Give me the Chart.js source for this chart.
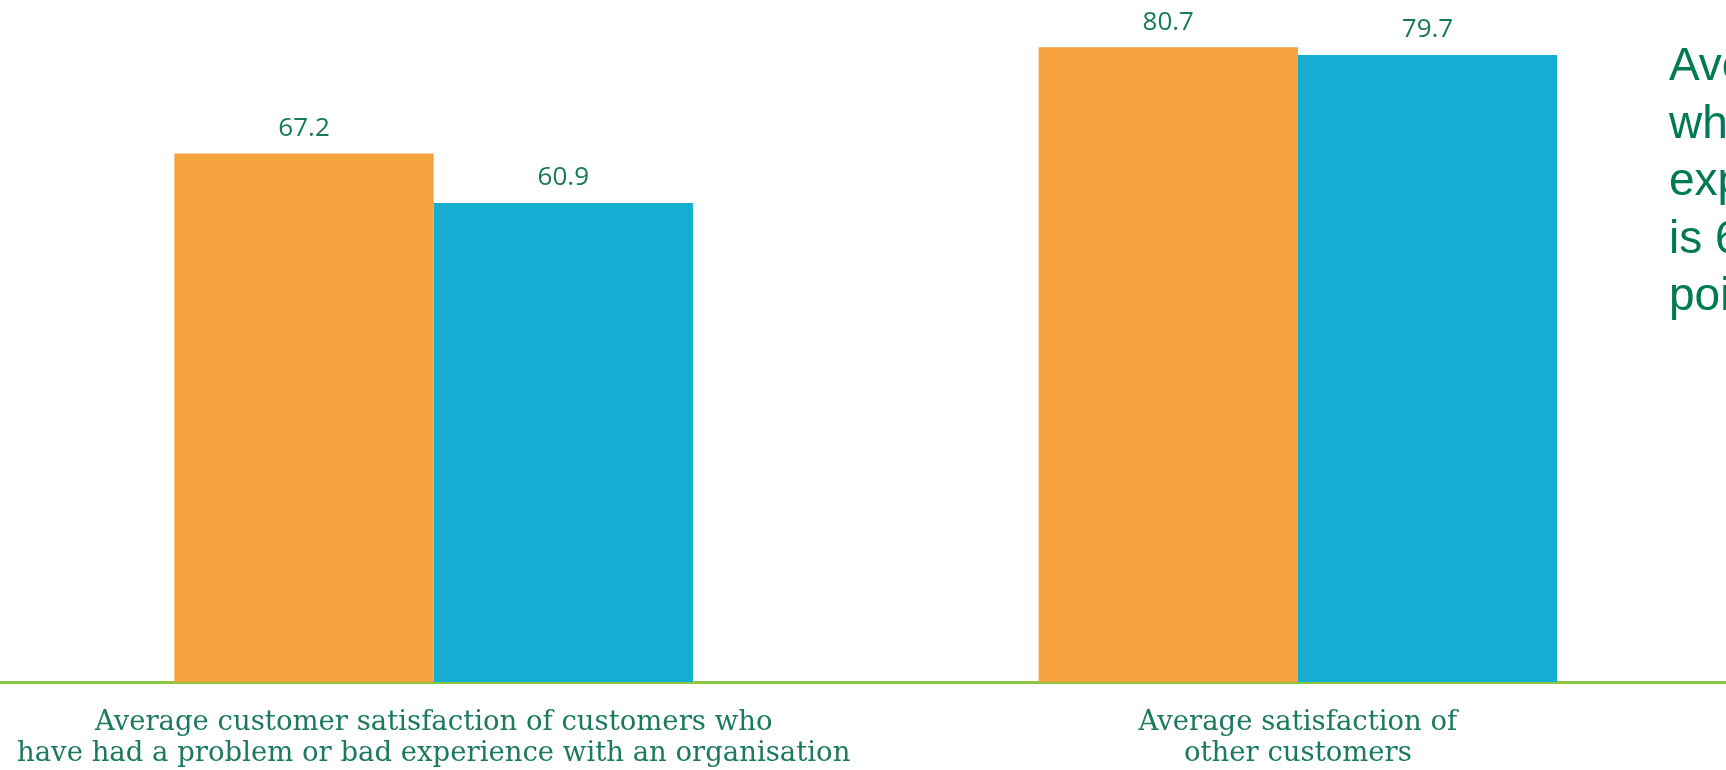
<!DOCTYPE html>
<html>
<head>
<meta charset="utf-8">
<script src="https://cdn.jsdelivr.net/npm/chart.js@4/dist/chart.umd.min.js"></script>
<style>
  html, body { margin: 0; padding: 0; background: #fff; overflow: hidden; }
  #wrap { position: relative; width: 1726px; height: 770px; overflow: hidden; }
  #c { position: absolute; left: 0; top: 0; }
  #note { position: absolute; left: 1669px; top: 36px; font-family: "Liberation Sans", Arial, sans-serif;
          font-size: 46px; line-height: 57.5px; color: #007a55; white-space: nowrap; }
</style>
</head>
<body>
<div id="wrap">
  <canvas id="c" width="1730" height="770"></canvas>
  <div id="note">
    <div>Average satisfaction of customers</div>
    <div>who have had a bad</div>
    <div>experience with an organisation</div>
    <div>is 6.3</div>
    <div>points lower</div>
  </div>
</div>
<script>
const categories = [
  ["Average customer satisfaction of customers who", "have had a problem or bad experience with an organisation"],
  ["Average satisfaction of", "other customers"]
];
const seriesA = [67.2, 80.7];
const seriesB = [60.9, 79.7];

const valueLabels = {
  id: 'valueLabels',
  afterDatasetsDraw(chart) {
    const ctx = chart.ctx;
    ctx.save();
    ctx.font = '26px "Open Sans", sans-serif';
    ctx.fillStyle = '#167a5a';
    ctx.textAlign = 'center';
    ctx.textBaseline = 'middle';
    chart.data.datasets.forEach((ds, di) => {
      const meta = chart.getDatasetMeta(di);
      meta.data.forEach((bar, i) => {
        ctx.fillText(ds.data[i].toFixed(1), bar.x, bar.y - 25);
      });
    });
    ctx.restore();
  }
};

new Chart(document.getElementById('c'), {
  type: 'bar',
  data: {
    labels: categories,
    datasets: [
      { data: seriesA, backgroundColor: '#f5a13d', borderWidth: 0 },
      { data: seriesB, backgroundColor: '#16add3', borderWidth: 0 }
    ]
  },
  options: {
    responsive: false,
    devicePixelRatio: 1,
    animation: false,
    layout: { padding: 0 },
    datasets: { bar: { categoryPercentage: 0.6, barPercentage: 1.0 } },
    plugins: { legend: { display: false }, tooltip: { enabled: false } },
    scales: {
      x: {
        grid: { display: false },
        border: { display: true, color: '#8dc63f', width: 3 },
        ticks: {
          color: '#1b7a5e',
          font: { family: '"DejaVu Serif", serif', size: 27.5, lineHeight: '31px' },
          padding: 17,
          maxRotation: 0,
          autoSkip: false
        },
        afterFit(scale) { scale.height = 88; }
      },
      y: {
        display: false,
        min: 0,
        max: 86.7
      }
    }
  },
  plugins: [valueLabels]
});
</script>
</body>
</html>
